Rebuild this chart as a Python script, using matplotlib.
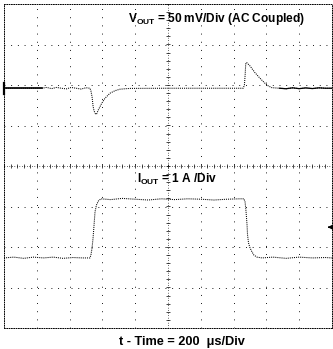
import numpy as np
import matplotlib
matplotlib.use('Agg')
import matplotlib.pyplot as plt

plt.rcParams['font.family'] = ['Liberation Sans', 'DejaVu Sans']
plt.rcParams['mathtext.fontset'] = 'custom'
plt.rcParams['mathtext.rm'] = 'Liberation Sans'
plt.rcParams['mathtext.bf'] = 'Liberation Sans:bold'

# scope settings
t_per_div = 200.0    # us/div
v_per_div = 50.0     # mV/div
i_per_div = 1.0      # A/div

# VOUT trace (AC coupled), time in us, deviation in mV
vout_t = [0, 232, 260, 290, 320, 350, 380, 410, 440, 470, 500, 524, 530, 537,
          543, 549, 558, 564, 575, 596, 616, 646, 677, 707, 740, 770, 1000,
          1200, 1459, 1466, 1471, 1474, 1480, 1500, 1530, 1561, 1591, 1612,
          1633, 1680, 1720, 1760, 1800, 1840, 1880, 1920, 1960, 2000]
vout_mv = [0, 0, 1.0, -0.5, 1.0, 0, -0.8, 1.0, 0, -1.0, 0.6, 0, -3.3, -10.7,
           -21.9, -28.0, -31.7, -32.1, -26.8, -18.5, -12.3, -6.2, -3.0, -1.2,
           -0.6, -0.2, 0, 0, 0, 4.1, 18.5, 30.9, 31.6, 27.5, 19.3, 12.3, 6.2,
           2.8, 0.7, 0, -0.6, 0.5, -0.5, 0.4, -0.4, 0.5, 0, 0]

# IOUT trace, time in us, current step in A
iout_t = [0, 60, 120, 180, 240, 300, 360, 420, 480, 524, 530, 537, 543, 549,
          555, 564, 576, 591, 650, 720, 800, 880, 960, 1040, 1120, 1200, 1280,
          1360, 1440, 1463, 1470, 1476, 1482, 1485, 1491, 1500, 1512, 1524,
          1543, 1573, 1640, 1720, 1800, 1880, 1960, 2000]
iout_a = [0, 0.02, -0.01, 0.02, 0, 0.02, -0.01, 0.01, 0, 0, 0.07, 0.25, 0.49,
          0.81, 1.14, 1.31, 1.41, 1.46, 1.44, 1.47, 1.45, 1.43, 1.46, 1.44,
          1.46, 1.45, 1.43, 1.45, 1.46, 1.46, 1.38, 1.14, 0.81, 0.57, 0.37,
          0.25, 0.15, 0.07, 0.02, 0, 0.02, -0.01, 0.02, 0, 0.01, 0]

# channel positions on screen (div)
vout_pos = 1.92
iout_pos = -2.27
trig_level = -1.51

fig = plt.figure(figsize=(3.33, 3.49), dpi=100)
ax = fig.add_axes([4 / 333, 21 / 349, 328 / 333, 324 / 349])
ax.set_xlim(0, 10)
ax.set_ylim(-4, 4)

# graticule
for x in range(1, 10):
    if x == 5:
        continue
    ax.axvline(x, color='k', lw=0.7, ls=(0, (0.9, 7.5)))
for y in range(-3, 4):
    if y == 0:
        continue
    ax.axhline(y, color='k', lw=0.7, ls=(0, (0.9, 6.0)))
ax.axvline(5, color='k', lw=0.6, ls=(0, (0.8, 2.2)))
ax.axhline(0, color='k', lw=0.6, ls=(0, (0.8, 2.2)))
minor_x = np.arange(0, 10.01, 0.2)
minor_y = np.arange(-4, 4.01, 0.2)
ax.vlines(minor_x, -0.05, 0.05, color='k', lw=0.5)
ax.hlines(minor_y, 4.94, 5.06, color='k', lw=0.5)

for s in ax.spines.values():
    s.set_linestyle((0, (0.8, 1.6)))
    s.set_linewidth(0.7)
ax.set_xticks([])
ax.set_yticks([])

# traces
tv = np.array(vout_t) / t_per_div
yv = np.array(vout_mv) / v_per_div + vout_pos
ti = np.array(iout_t) / t_per_div
yi = np.array(iout_a) / i_per_div + iout_pos
ax.plot(tv, yv, color='k', lw=0.75, ls=(0, (1, 1)))
ax.plot(ti, yi, color='k', lw=0.75, ls=(0, (1, 1)))
ax.plot(tv[:2], yv[:2], color='k', lw=1.2)
ax.plot(tv[-9:], yv[-9:], color='k', lw=0.9)

# channel marker and trigger arrow
ax.plot([0.0, 0.0], [vout_pos - 0.13, vout_pos + 0.14], color='k', lw=1.6,
        clip_on=False)
ax.annotate('', xy=(9.78, trig_level), xytext=(10.0, trig_level),
            arrowprops=dict(arrowstyle='-|>', lw=0.9, color='k',
                            mutation_scale=7), annotation_clip=False)

# labels
fs = 8.6
ax.text(3.78, 3.55, r'$\mathbf{V_{OUT}}$ = 50 mV/Div (AC Coupled)',
        fontsize=fs, fontweight='bold', ha='left', va='baseline')
ax.text(4.05, -0.41, r'$\mathbf{I_{OUT}}$ = 1 A /Div',
        fontsize=fs, fontweight='bold', ha='left', va='baseline')
fig.text(182 / 333, 3.5 / 349, 't - Time = 200  \u03bcs/Div',
         fontsize=9.2, fontweight='bold', ha='center', va='baseline')

fig.savefig('out.png', dpi=100)
